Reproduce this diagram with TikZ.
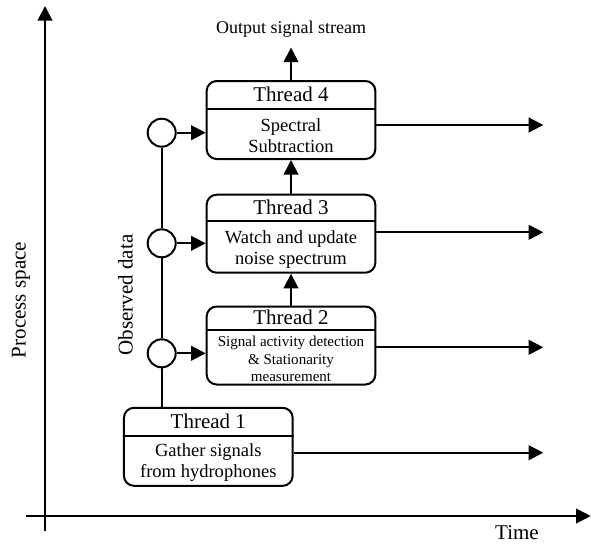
\documentclass[tikz,border=0pt]{standalone}
\usepackage{fontspec}
\setmainfont{Liberation Serif}
\usetikzlibrary{arrows.meta, positioning}

\begin{document}
\begin{tikzpicture}[x=0.75pt, y=-0.75pt, line width=1.5pt, >={Triangle[length=11pt, width=11pt]}]
    \tikzstyle{thread}=[draw, rounded corners=7.5pt, minimum width=126.5pt, minimum height=58.5pt, inner sep=0pt]
    \tikzstyle{title}=[font=\fontsize{15.75}{18}\selectfont, inner sep=0pt]
    \tikzstyle{body}=[font=\fontsize{13.9}{15.75}\selectfont, align=center, inner sep=0pt]
    \tikzstyle{small body}=[font=\fontsize{11.3}{13.1}\selectfont, align=center, inner sep=0pt]
    \tikzstyle{tap}=[draw, circle, minimum size=21pt, inner sep=0pt]
    \tikzstyle{axis label}=[font=\fontsize{15.75}{18}\selectfont, inner sep=0pt]

    \useasboundingbox (0,0) rectangle (591,544);

    % axes
    \coordinate (ytop) at (45,6);
    \coordinate (ybot) at (45,530.7);
    \coordinate (xleft) at (26,516);
    \coordinate (xright) at (590.7,516);
    \draw[->] (ybot) -- (ytop);
    \draw[->] (xleft) -- (xright);
    \node[axis label, rotate=90] (space) at (21,300) {Process space};
    \node[axis label] (time) at (517,533) {Time};

    % threads
    \node[thread] (t4) at (291,120) {};
    \node[thread] (t3) at (291,233.7) {};
    \node[thread] (t2) at (291,345.5) {};
    \node[thread] (t1) at (208.3,446.8) {};

    \draw ([yshift=-21.75pt]t4.north west) -- ([yshift=-21.75pt]t4.north east);
    \draw ([yshift=-20.8pt]t3.north west) -- ([yshift=-20.8pt]t3.north east);
    \draw ([yshift=-18pt]t2.north west) -- ([yshift=-18pt]t2.north east);
    \draw ([yshift=-21.75pt]t1.north west) -- ([yshift=-21.75pt]t1.north east);

    \node[title] (t4a) at ([yshift=-10.9pt]t4.north) {Thread 4};
    \node[title] (t3a) at ([yshift=-10.4pt]t3.north) {Thread 3};
    \node[title] (t2a) at ([yshift=-9pt]t2.north) {Thread 2};
    \node[title] (t1a) at ([yshift=-10.9pt]t1.north) {Thread 1};

    \node[body] (t4b) at ([yshift=18.5pt]t4.south) {Spectral\\Subtraction};
    \node[body] (t3b) at ([yshift=18.5pt]t3.south) {Watch and update\\noise spectrum};
    \node[small body] (t2b) at ([yshift=20pt]t2.south) {Signal activity detection\\\& Stationarity\\measurement};
    \node[body] (t1b) at ([yshift=18.5pt]t1.south) {Gather signals\\from hydrophones};

    % observed data taps
    \node[tap] (c4) at (161.7,132.7) {};
    \node[tap] (c3) at (161.7,243.3) {};
    \node[tap] (c2) at (161.7,353.3) {};
    \node[axis label, rotate=90] (obs) at (125.5,295) {Observed data};

    \draw (c4) -- (c3);
    \draw (c3) -- (c2);
    \draw (c2) -- (c2 |- t1.north);
    \draw[->] (c4) -- (c4 -| t4.west);
    \draw[->] (c3) -- (c3 -| t3.west);
    \draw[->] (c2) -- (c2 -| t2.west);

    \draw[->] (t2) -- (t3);
    \draw[->] (t3) -- (t4);

    \node[font=\fontsize{13.5}{16}\selectfont, inner sep=7.2pt] (out) at (291,28.75) {Output signal stream};
    \draw[->] (t4) -- (out);

    % time lines
    \coordinate (e4) at (543.3,125);
    \coordinate (e3) at (543.3,232.3);
    \coordinate (e2) at (543.3,347.3);
    \coordinate (e1) at (543.3,452.7);
    \draw[->] (t4.east |- e4) -- (e4);
    \draw[->] (t3.east |- e3) -- (e3);
    \draw[->] (t2.east |- e2) -- (e2);
    \draw[->] (t1.east |- e1) -- (e1);
\end{tikzpicture}
\end{document}
